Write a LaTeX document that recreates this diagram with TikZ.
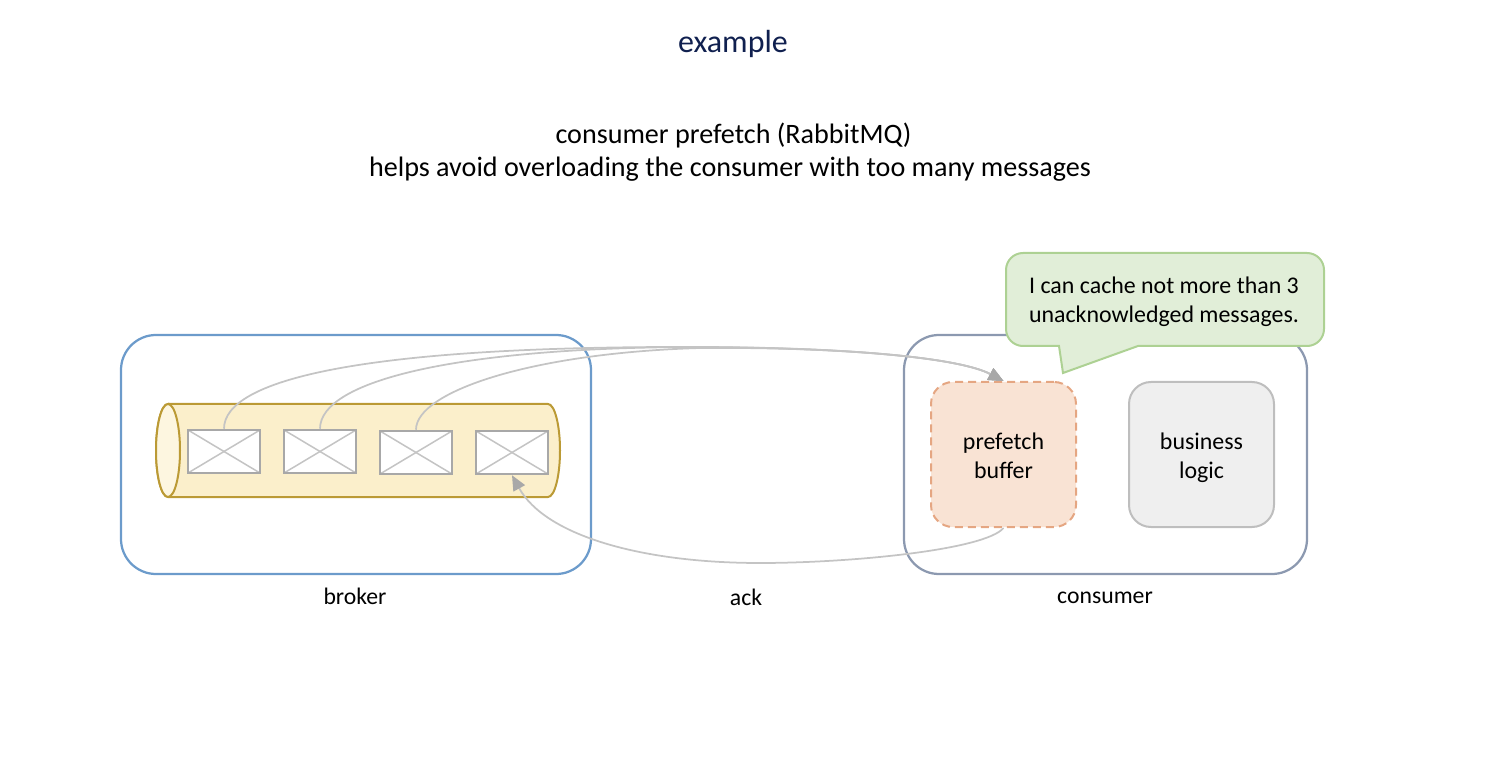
\documentclass[tikz,border=0pt]{standalone}
\usepackage{fontspec}
\setmainfont{Carlito}
\usetikzlibrary{arrows.meta}
\definecolor{brokerline}{HTML}{6C9BCB}
\definecolor{consumerline}{HTML}{8C99B0}
\definecolor{queuefill}{HTML}{FBEFCB}
\definecolor{queuecap}{HTML}{FDF6E0}
\definecolor{queueline}{HTML}{BB9A35}
\definecolor{msgline}{HTML}{A8A8A8}
\definecolor{arrowline}{HTML}{C4C4C4}
\definecolor{prefetchfill}{HTML}{F9E3D4}
\definecolor{prefetchline}{HTML}{E5A682}
\definecolor{logicfill}{HTML}{EFEFEF}
\definecolor{logicline}{HTML}{BEBEBE}
\definecolor{notefill}{HTML}{E1EED8}
\definecolor{noteline}{HTML}{ADD193}
\definecolor{titleblue}{HTML}{10204F}
\tikzset{
    container/.style={draw,line width=.45mm,rounded corners=7mm,minimum height=47.8mm,inner sep=0},
    msgbox/.style={draw=msgline,fill=white,line width=.5mm,minimum width=14.4mm,minimum height=8.6mm,inner sep=0,
        path picture={
            \draw[arrowline,line width=.3mm] (path picture bounding box.north west) -- (path picture bounding box.south east);
            \draw[arrowline,line width=.3mm] (path picture bounding box.south west) -- (path picture bounding box.north east);
        }},
    stagebox/.style={line width=.4mm,rounded corners=4.4mm,minimum width=29mm,minimum height=29mm,inner sep=0},
    stagetext/.style={align=center,inner sep=0,font=\fontsize{13.6}{16.4}\selectfont},
    caption/.style={font=\fontsize{13.5}{15}\selectfont,inner sep=0},
    headline/.style={font=\fontsize{16}{19}\selectfont,inner sep=0},
    flow/.style={arrowline,line width=.35mm},
    flowhead/.style={flow,-{Triangle[length=3mm,width=2.6mm,color=msgline]}},
}
\begin{document}
\begin{tikzpicture}[x=.2mm,y=-.2mm]
    \useasboundingbox (0,0) rectangle (1508,769);
    \node[font=\fontsize{18.2}{20}\selectfont,text=titleblue,inner sep=0] (title) at (733,44) {example};
    \node[headline] (subtitlea) at (733.5,135) {consumer prefetch (RabbitMQ)};
    \node[headline] (subtitleb) at (730,169) {helps avoid overloading the consumer with too many messages};
    \node[container,draw=brokerline,minimum width=94mm] (broker) at (356,454.5) {};
    \node[container,draw=consumerline,minimum width=80.6mm] (consumer) at (1105.5,454.5) {};
    % queue as a lying cylinder
    \draw[draw=queueline,fill=queuefill,line width=.4mm] (168,404) -- (548,404) arc (90:-90:2.4mm and 9.3mm) -- (168,497) arc (270:90:2.4mm and 9.3mm) -- cycle;
    \draw[draw=queueline,fill=queuecap,line width=.4mm] (168,450.5) ellipse (2.4mm and 9.3mm);
    % messages in the queue
    \foreach \name/\xpos/\ypos in {msga/224/451.5,msgb/320/451.5,msgc/416/452.5,msgd/512/452.5}
        \node[msgbox] (\name) at (\xpos,\ypos) {};
    \node[stagebox,draw=prefetchline,fill=prefetchfill,dash pattern=on 1.6mm off 1mm] (prefetch) at (1003.5,454.5) {};
    \node[stagetext] (prefetchtext) at (1003.5,456) {prefetch\\buffer};
    \node[stagebox,draw=logicline,fill=logicfill] (logic) at (1201.5,454.5) {};
    \node[stagetext] (logictext) at (1201.5,458) {business\\logic};
    \draw[flowhead] (msga.north) .. controls (224,380) and (360,347) .. (680,347) .. controls (850,347) and (960,358) .. (prefetch.north);
    \draw[flowhead] (msgb.north) .. controls (320,380) and (460,348) .. (690,347) .. controls (850,347) and (960,358) .. (prefetch.north);
    \draw[flowhead] (msgc.north) .. controls (416,392) and (530,353) .. (700,348) .. controls (850,347) and (960,358) .. (prefetch.north);
    \draw[flowhead] (prefetch.south) .. controls (985,550) and (850,563) .. (760,563) .. controls (640,563) and (545,535) .. (msgd.south);
    % speech bubble
    \draw[draw=noteline,fill=notefill,line width=.4mm,rounded corners=3.4mm] (1006,253) -- (1324,253) -- (1324,346) [sharp corners] -- (1138,346) -- (1063,373) -- (1059,346) [rounded corners=3.4mm] -- (1006,346) -- cycle;
    \node[font=\fontsize{13.6}{16.6}\selectfont,align=center,inner sep=0] (note) at (1164,302) {I can cache not more than 3\\unacknowledged messages.};
    \node[caption] (brokerlabel) at (355,596) {broker};
    \node[caption] (acklabel) at (746,597) {ack};
    \node[caption] (consumerlabel) at (1105,598) {consumer};
\end{tikzpicture}
\end{document}
